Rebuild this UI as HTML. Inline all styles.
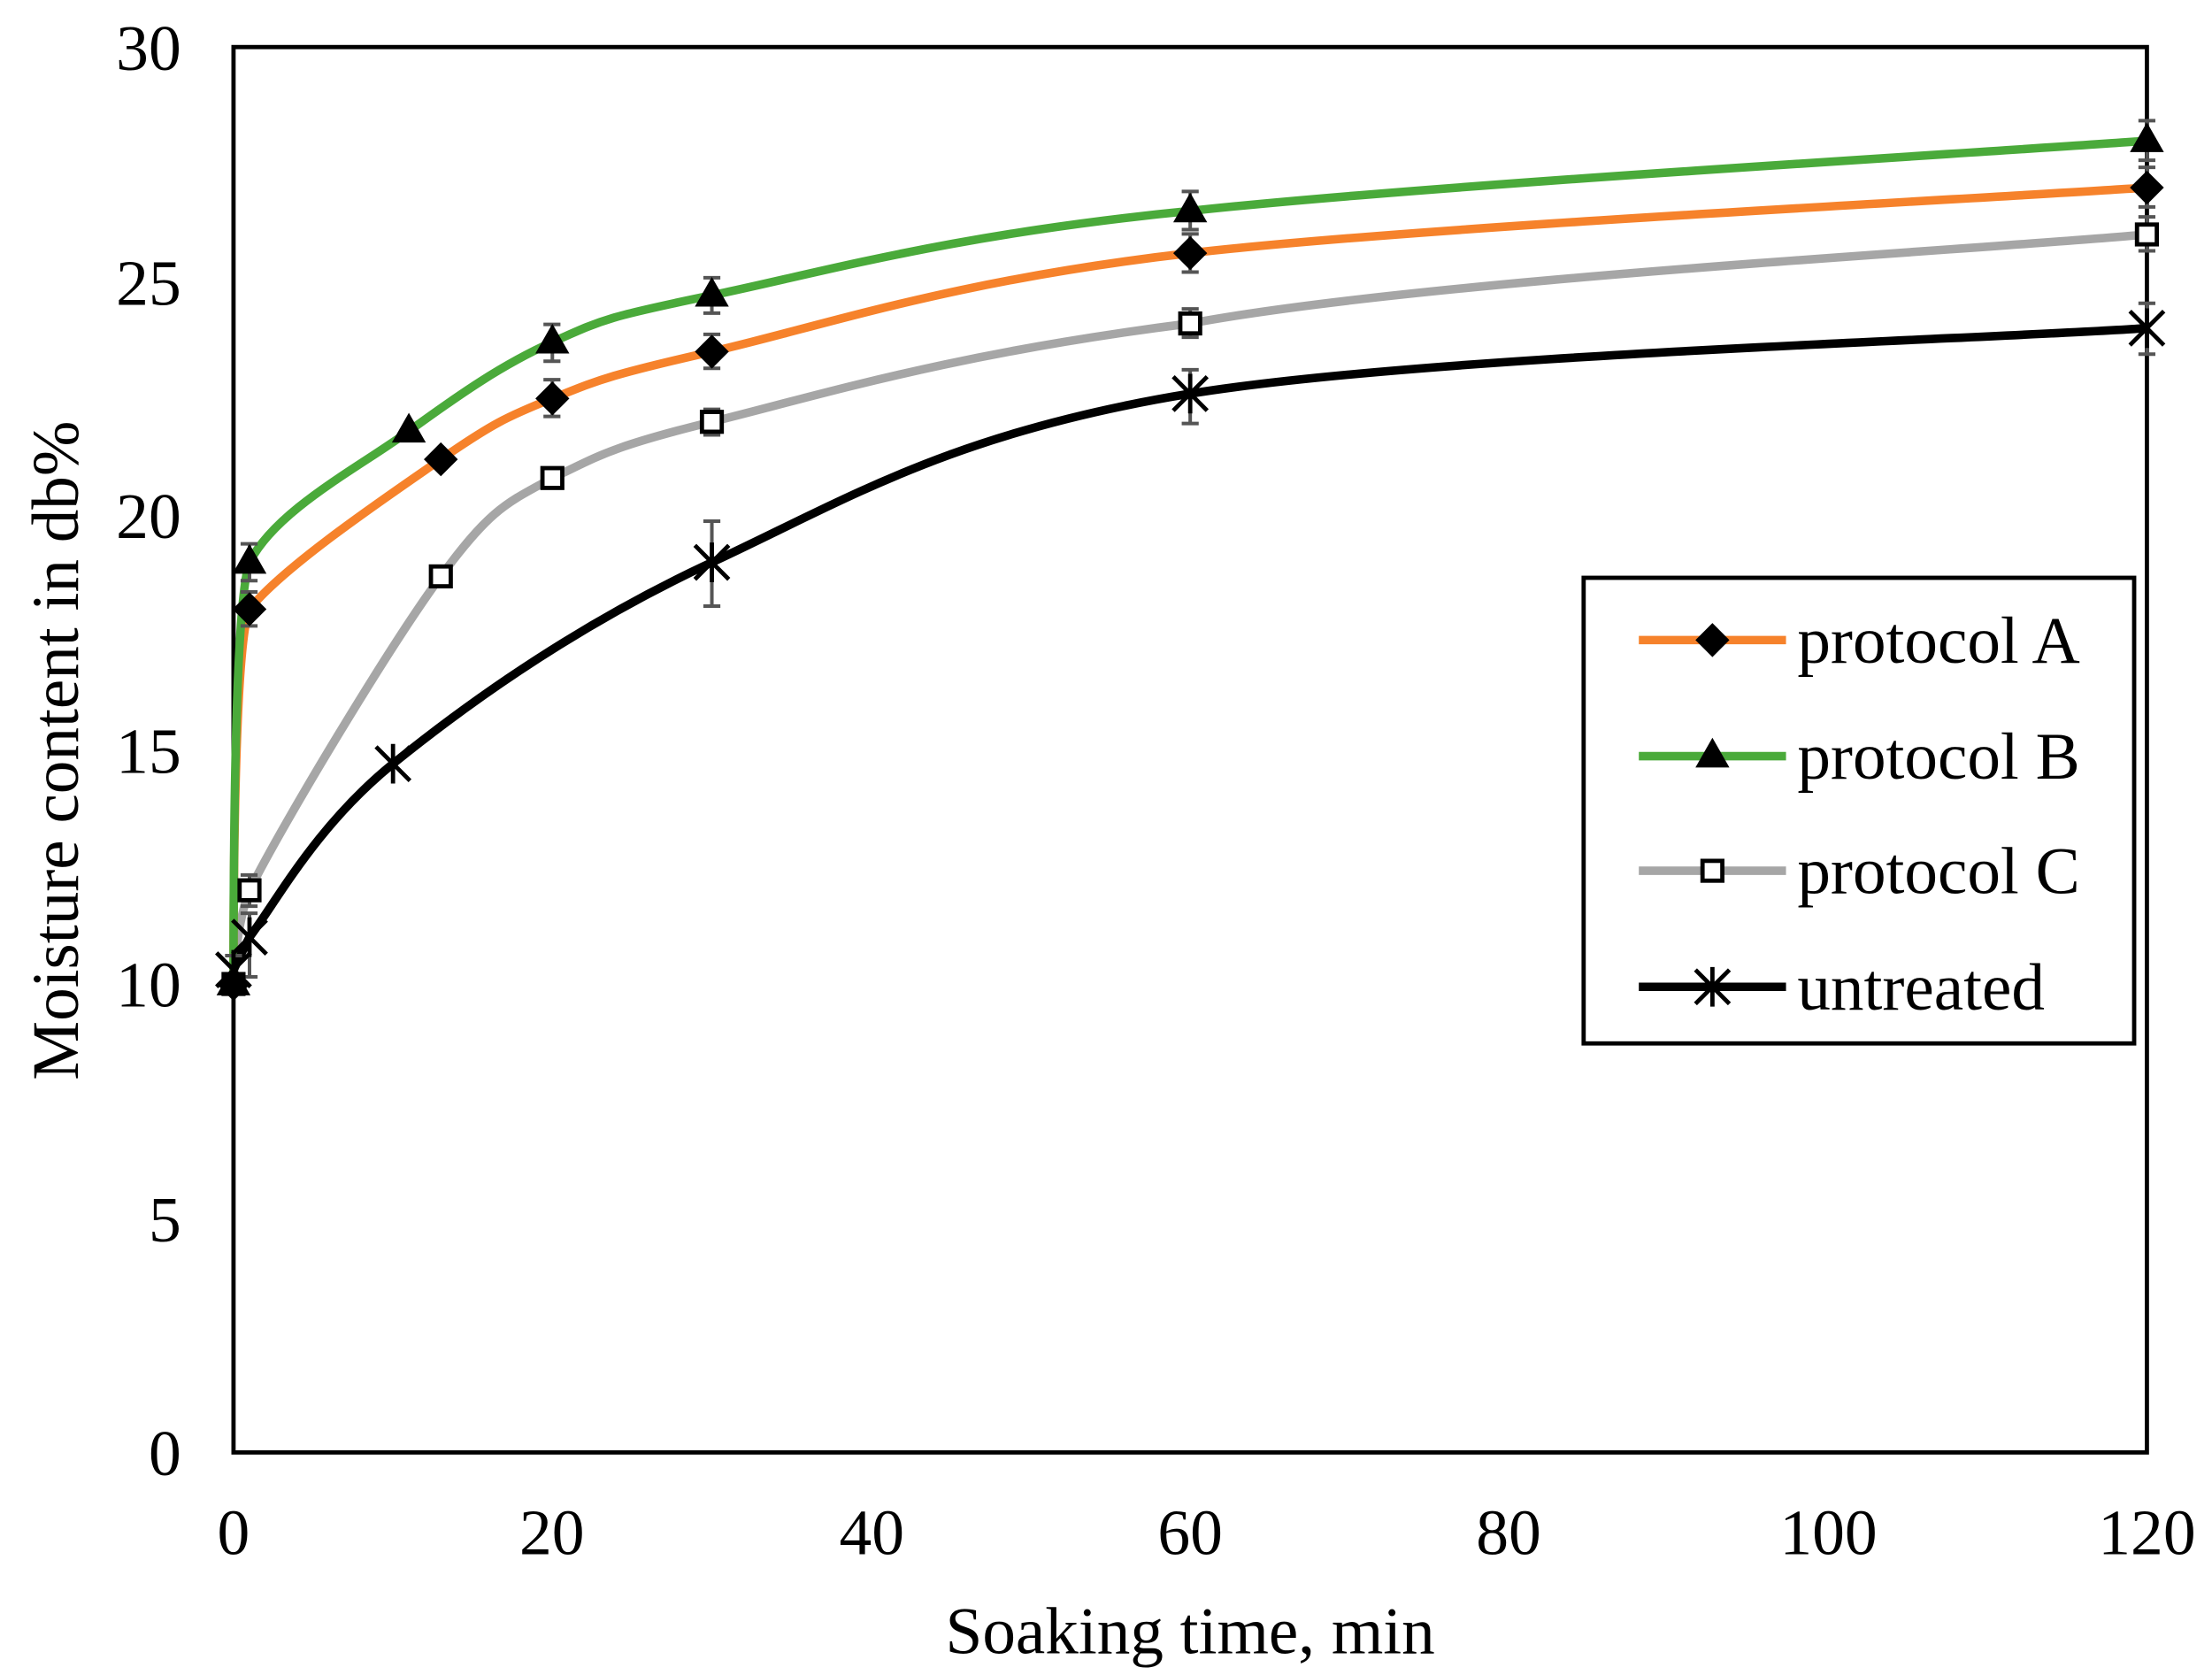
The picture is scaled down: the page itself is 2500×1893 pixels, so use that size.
<!DOCTYPE html>
<html><head><meta charset="utf-8"><style>html,body{margin:0;padding:0;background:#fff}svg{display:block}</style></head>
<body>
<svg width="2500" height="1893" viewBox="0 0 1563 1183" xmlns="http://www.w3.org/2000/svg" xmlns:xlink="http://www.w3.org/1999/xlink" font-family="Liberation Serif, serif">
<defs>
<path id="dm" d="M0 -12l12 12-12 12-12-12z" fill="#000"/>
<path id="tr" d="M0 -13l12 21h-24z" fill="#000"/>
<rect id="sq" x="-7" y="-7" width="14" height="14" fill="#fff" stroke="#000" stroke-width="3"/>
<path id="st" d="M-12 -12l24 24M12 -12l-24 24M0 -14v28" stroke="#000" stroke-width="3"/>
</defs>
<rect x="0" y="0" width="1563" height="1183" fill="#fff"/>
<rect x="165" y="33" width="1352" height="993" fill="none" stroke="#000" stroke-width="3"/>
<g font-size="46" fill="#000" text-anchor="end">
<text x="128" y="1042">0</text><text x="128" y="877">5</text><text x="128" y="711">10</text>
<text x="128" y="546">15</text><text x="128" y="380">20</text><text x="128" y="215">25</text><text x="128" y="49">30</text>
</g>
<g font-size="46" fill="#000" text-anchor="middle">
<text x="165" y="1098">0</text><text x="390" y="1098">20</text><text x="616" y="1098">40</text><text x="841" y="1098">60</text>
<text x="1066" y="1098">80</text><text x="1292" y="1098">100</text><text x="1517" y="1098">120</text>
</g>
<g font-size="47" fill="#000" text-anchor="middle">
<text x="841" y="1168">Soaking time, min</text>
<text transform="translate(55,530) rotate(-90)">Moisture content in db%</text>
</g>
<g fill="none" stroke-width="6">
<path stroke="#A6A6A6" d="M165 695 C166 670 170 645 176.3 628.8 C200.7 580 275.8 455.6 311.5 407 C347.2 358.4 358.4 355 390.3 337.5 C422.2 322.7 427.9 316.3 503 297.8 C578.1 279.3 672 249.6 841 228.3 C1010 196.8 1404.3 175.9 1517 165.4"/>
<path stroke="#F6822B" d="M165 695 C165 560 168 450 176.3 430.2 C200 400 275.8 349.1 311.5 324.3 C347.2 299.5 358.4 294 390.3 281.3 C422.2 268.6 427.9 265.3 503 248.2 C578.1 231.1 672 197.9 841 178.6 C1010 159.3 1404.3 140 1517 132.3"/>
<path stroke="#4AAA3A" d="M165 695 C165 540 168 420 176.3 397.1 C195 360 253.2 330.3 288.9 304.4 C324.6 278.5 354.6 257.5 390.3 241.5 C426 225.5 427.9 223.9 503 208.4 C578.1 192.9 672 165.3 841 148.8 C1010 130.3 1404.3 107.5 1517 99.2"/>
<path stroke="#000" d="M165 685 C167.2 681.2 172 670 176.3 661.9 C195.1 637.2 223.2 583.5 277.7 539.4 C332.2 495.3 409.1 440.7 503 397.1 C596.9 353.5 672 305.5 841 277.9 C1010 250.5 1404.3 239.3 1517 231.6"/>
</g>
<g stroke="#555" stroke-width="2.5" fill="none">
<path d="M176.3 418v24M170 418h12M170 442h12 M390.3 268v26M384 268h12M384 294h12 M503 236v24M497 236h12M497 260h12 M841 165v27M835 165h12M835 192h12 M1517 118v28M1511 118h12M1511 146h12"/>
<path d="M176.3 384v26M170 384h12M170 410h12 M390.3 229v26M384 229h12M384 255h12 M503 196v25M497 196h12M497 221h12 M841 135v27M835 135h12M835 162h12 M1517 85v28M1511 85h12M1511 113h12"/>
<path d="M176.3 618v22M170 618h12M170 640h12 M503 289v18M497 289h12M497 307h12 M841 218v20M835 218h12M835 238h12 M1517 153v24M1511 153h12M1511 177h12"/>
<path d="M165 675v24M159 675h12M159 699h12 M176.3 645v45M170 645h12M170 690h12 M503 368v60M497 368h12M497 428h12 M841 261v38M835 261h12M835 299h12 M1517 214v36M1511 214h12M1511 250h12"/>
</g>
<use xlink:href="#sq" x="165" y="695"/><use xlink:href="#sq" x="176.3" y="628.8"/><use xlink:href="#sq" x="311.5" y="407"/><use xlink:href="#sq" x="390.3" y="337.5"/><use xlink:href="#sq" x="503" y="297.8"/><use xlink:href="#sq" x="841" y="228.3"/><use xlink:href="#sq" x="1517" y="165.4"/>
<use xlink:href="#dm" x="165" y="695"/><use xlink:href="#dm" x="176.3" y="430.2"/><use xlink:href="#dm" x="311.5" y="324.3"/><use xlink:href="#dm" x="390.3" y="281.3"/><use xlink:href="#dm" x="503" y="248.2"/><use xlink:href="#dm" x="841" y="178.6"/><use xlink:href="#dm" x="1517" y="132.3"/>
<use xlink:href="#tr" x="165" y="695"/><use xlink:href="#tr" x="176.3" y="397.1"/><use xlink:href="#tr" x="288.9" y="304.4"/><use xlink:href="#tr" x="390.3" y="241.5"/><use xlink:href="#tr" x="503" y="208.4"/><use xlink:href="#tr" x="841" y="148.8"/><use xlink:href="#tr" x="1517" y="99.2"/>
<use xlink:href="#st" x="165" y="685"/><use xlink:href="#st" x="176.3" y="661.9"/><use xlink:href="#st" x="277.7" y="539.4"/><use xlink:href="#st" x="503" y="397.1"/><use xlink:href="#st" x="841" y="277.9"/><use xlink:href="#st" x="1517" y="231.6"/>
<rect x="1119" y="408" width="389" height="329" fill="#fff" stroke="#000" stroke-width="3"/>
<g font-size="47" fill="#000">
<line x1="1158" y1="452" x2="1262" y2="452" stroke="#F6822B" stroke-width="6"/><use xlink:href="#dm" x="1210" y="452"/><text x="1270" y="468">protocol A</text>
<line x1="1158" y1="534" x2="1262" y2="534" stroke="#4AAA3A" stroke-width="6"/><use xlink:href="#tr" x="1210" y="534"/><text x="1270" y="550">protocol B</text>
<line x1="1158" y1="615" x2="1262" y2="615" stroke="#A6A6A6" stroke-width="6"/><use xlink:href="#sq" x="1210" y="615"/><text x="1270" y="631">protocol C</text>
<line x1="1158" y1="697" x2="1262" y2="697" stroke="#000" stroke-width="6"/><use xlink:href="#st" x="1210" y="697"/><text x="1270" y="713">untreated</text>
</g>
</svg>
</body></html>
